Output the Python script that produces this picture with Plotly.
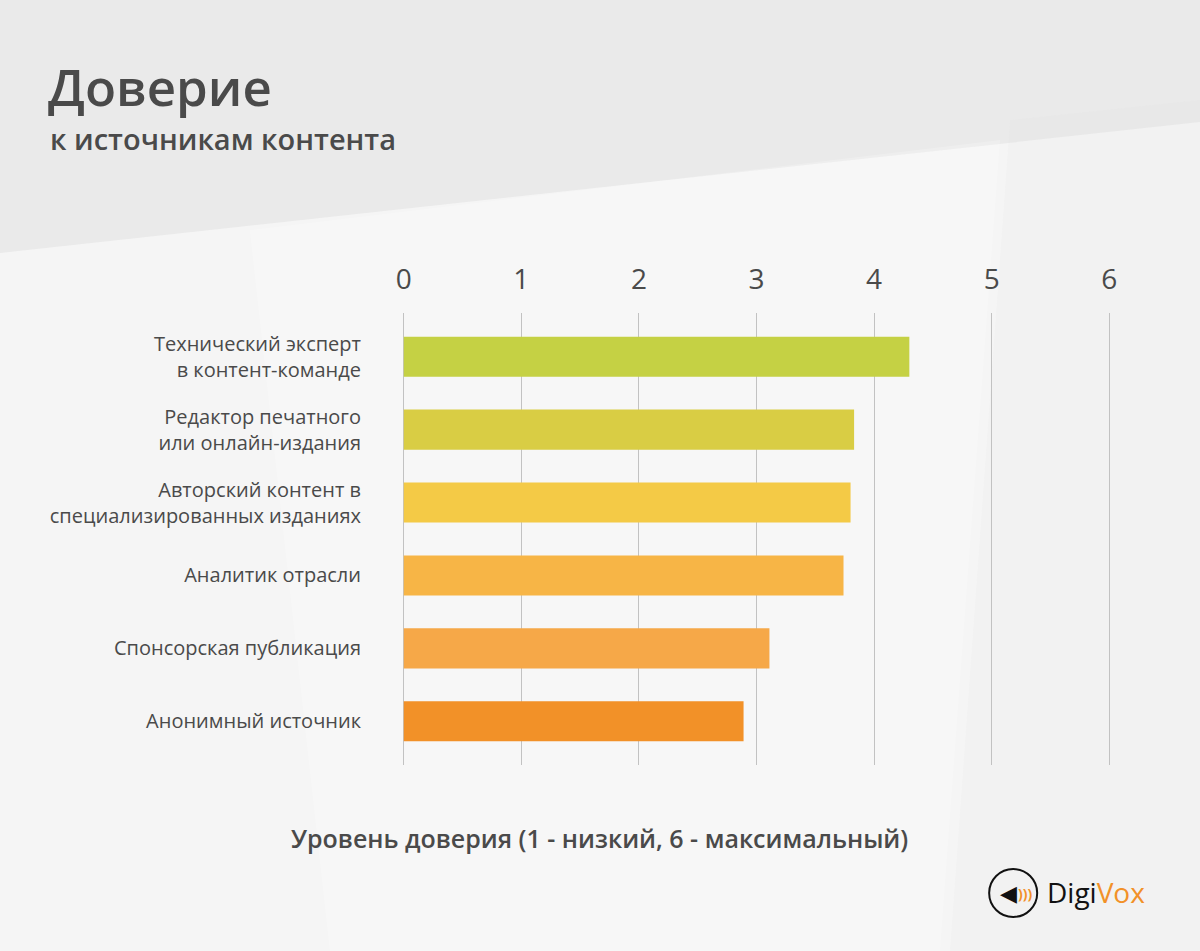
import plotly.graph_objects as go

categories = [
    "Технический эксперт<br>в контент-команде",
    "Редактор печатного<br>или онлайн-издания",
    "Авторский контент в<br>специализированных изданиях",
    "Аналитик отрасли",
    "Спонсорская публикация",
    "Анонимный источник",
]
values = [4.30, 3.83, 3.80, 3.74, 3.11, 2.89]
bar_colors = ["#C5D144", "#D9CD44", "#F4CA46", "#F7B546", "#F6A848", "#F29128"]
x_ticks = [0, 1, 2, 3, 4, 5, 6]

title = "Доверие"
subtitle = "к источникам контента"
axis_title = "Уровень доверия (1 - низкий, 6 - максимальный)"

FONT = "Open Sans"
TXT = "#4a4a4a"

# plot area geometry in pixels
L, W, T, B = 392.25, 728.5, 313, 765
H = B - T


def px(x):
    return (x - L) / W


def py(y):
    return (B - y) / H


fig = go.Figure()
fig.add_trace(go.Bar(
    x=values,
    y=list(range(len(categories))),
    orientation="h",
    marker=dict(color=bar_colors, line=dict(width=0)),
    width=0.55,
    hoverinfo="x",
))


def poly(points, fill):
    path = "M " + " L ".join(f"{px(a):.4f} {py(b):.4f}" for a, b in points) + " Z"
    return dict(type="path", xref="paper", yref="paper", layer="below",
                path=path, fillcolor=fill, line=dict(width=0))


shapes = [
    poly([(0, 0), (1200, 0), (1200, 122), (0, 253)], "rgba(205,205,205,0.18)"),
    poly([(0, 253), (1200, 122), (1200, 951), (0, 951)], "rgba(255,255,255,0.30)"),
    poly([(250, 230), (1000, 140), (940, 951), (330, 951)], "rgba(255,255,255,0.20)"),
    poly([(1010, 120), (1200, 100), (1200, 951), (950, 951)], "rgba(225,225,225,0.12)"),
    dict(type="circle", xref="paper", yref="paper",
         x0=px(989), x1=px(1037), y0=py(917), y1=py(869),
         line=dict(color="#111111", width=2), fillcolor="rgba(0,0,0,0)"),
]

annotations = [
    dict(text=title, xref="paper", yref="paper",
         x=px(46), y=py(86), xanchor="left", yanchor="middle",
         showarrow=False, font=dict(family=FONT, size=51, color=TXT, weight=600)),
    dict(text=subtitle, xref="paper", yref="paper",
         x=px(48), y=py(139), xanchor="left", yanchor="middle",
         showarrow=False, font=dict(family=FONT, size=29, color=TXT, weight=600)),
    dict(text=axis_title, xref="paper", yref="paper",
         x=px(600), y=py(838), xanchor="center", yanchor="middle",
         showarrow=False, font=dict(family=FONT, size=25, color=TXT, weight=600)),
    dict(text="<b>◀</b>", xref="paper", yref="paper",
         x=px(1008), y=py(893), xanchor="center", yanchor="middle",
         showarrow=False, font=dict(family="DejaVu Sans", size=22, color="#111111")),
    dict(text=")))", xref="paper", yref="paper",
         x=px(1025), y=py(893), xanchor="center", yanchor="middle",
         showarrow=False, font=dict(family=FONT, size=14, color="#F29128", weight=700)),
    dict(text="Digi<span style='color:#F29128'>Vox</span>", xref="paper", yref="paper",
         x=px(1045), y=py(892), xanchor="left", yanchor="middle",
         showarrow=False, font=dict(family=FONT, size=28, color="#111111")),
]

fig.update_layout(
    width=1200, height=951,
    margin=dict(l=L, r=1200 - L - W, t=T, b=951 - B, pad=0),
    paper_bgcolor="#f1f1f1",
    plot_bgcolor="rgba(0,0,0,0)",
    showlegend=False,
    shapes=shapes,
    annotations=annotations,
    xaxis=dict(
        side="top", range=[-0.1, 6.1], tickvals=x_ticks,
        ticktext=[str(v) for v in x_ticks],
        showgrid=True, gridcolor="#c2c2c2", gridwidth=1,
        zeroline=True, zerolinecolor="#c2c2c2", zerolinewidth=1,
        ticks="outside", ticklen=12, tickcolor="rgba(0,0,0,0)",
        tickfont=dict(family=FONT, size=28, color=TXT, weight=500),
        showline=False, fixedrange=True,
    ),
    yaxis=dict(
        range=[5.6, -0.6], tickvals=list(range(len(categories))),
        ticktext=categories,
        showgrid=False, zeroline=False, showline=False,
        ticks="outside", ticklen=26, tickcolor="rgba(0,0,0,0)",
        tickfont=dict(family=FONT, size=20, color=TXT, weight=500),
        fixedrange=True,
    ),
)

fig.write_html(
    "out.html",
    config={"displayModeBar": False},
    post_script="document.body.style.margin='0';document.body.style.background='#f1f1f1';",
)
